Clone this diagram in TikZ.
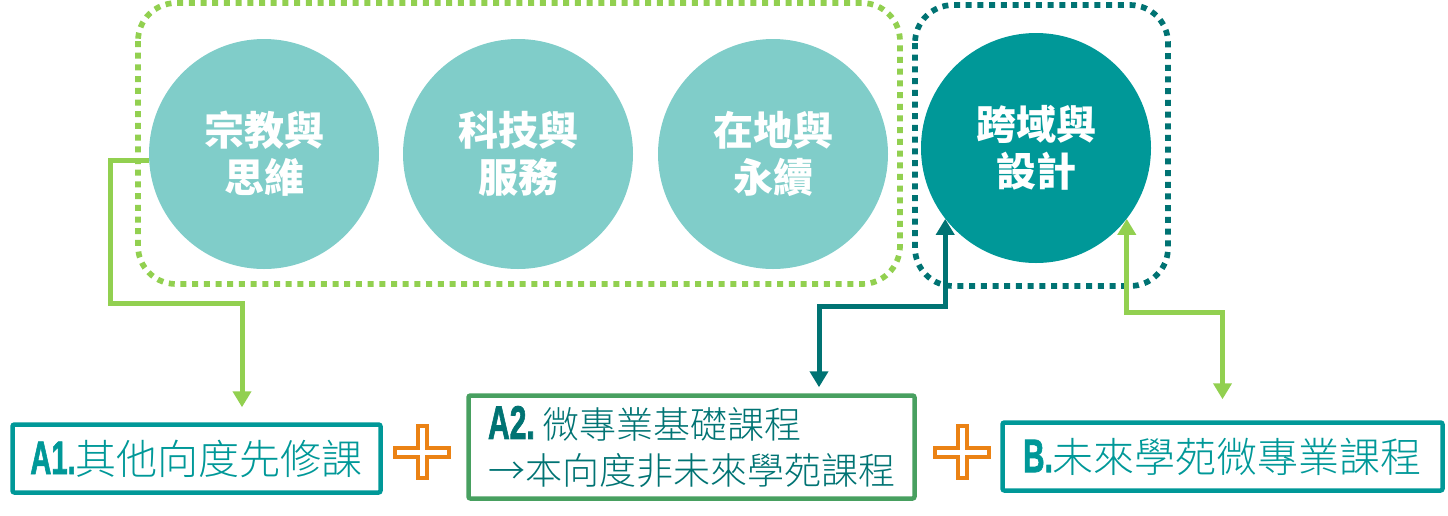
\documentclass[tikz,border=0pt]{standalone}
\usepackage{fontspec}
\usepackage{graphicx}
\usepackage{tikz}
\usetikzlibrary{arrows.meta}
\usepackage{xcolor}
\newfontfamily\cjk{Noto Sans CJK TC}
\newfontfamily\cjklight{Noto Sans CJK TC}[UprightFont=* Light]
\newfontfamily\labfont{Liberation Sans}[BoldFont=* Bold, BoldFeatures={FakeBold=1.8}]
\definecolor{lteal}{RGB}{128,205,201}
\definecolor{mteal}{RGB}{0,152,152}
\definecolor{dteal}{RGB}{0,115,115}
\definecolor{lgreen}{RGB}{146,208,80}
\definecolor{bgreen}{RGB}{72,160,96}
\definecolor{porange}{RGB}{235,130,20}
\newcommand{\lab}[2][0.62]{{\labfont\bfseries\fontsize{47}{47}\selectfont\scalebox{#1}[1]{#2}}}

\begin{document}
\begin{tikzpicture}[x=1pt,y=-1pt]
    \tikzset{topic/.style = {shape=circle, fill=lteal, minimum size=230pt, inner sep=0pt, text=white, align=center, font=\cjk\bfseries\fontsize{40}{47}\selectfont}}
    \tikzset{course/.style = {draw=mteal, text=mteal, line width=4.5pt, rounded corners=2pt, inner sep=0pt, minimum height=68pt, font=\cjklight\fontsize{41}{46}\selectfont}}
    \tikzset{frame/.style = {line width=5.7pt, rounded corners=38pt, dash pattern=on 6pt off 5.7pt}}
    \tikzset{link/.style = {line width=5pt, -{Triangle[width=18pt,length=16pt]}}}
    \tikzset{plussign/.pic = {\draw[porange, line width=4pt] (-4.5,-26) -- (4.5,-26) -- (4.5,-4.5) -- (27,-4.5) -- (27,4.5) -- (4.5,4.5) -- (4.5,26) -- (-4.5,26) -- (-4.5,4.5) -- (-27,4.5) -- (-27,-4.5) -- (-4.5,-4.5) -- cycle;}}

    \useasboundingbox (0,0) rectangle (1448,515);

    % groups
    \draw[frame, lgreen] (138,3) rectangle (900,284);
    \draw[frame, dteal] (915,5) rectangle (1168,286);

    % vertices
    \node[topic] (relig) at (264,154) {宗教與\\思維};
    \node[topic] (tech) at (518,154) {科技與\\服務};
    \node[topic] (local) at (773,154) {在地與\\永續};
    \node[topic, fill=mteal] (design) at (1036,148) {跨域與\\設計};

    \node[course, minimum width=368pt] (aone) at (196.5,458.5) {\lab{A1.}其他向度先修課};
    \node[course, draw=bgreen, text=dteal, minimum width=446pt, minimum height=103pt, align=left, font=\cjklight\fontsize{37}{46}\selectfont] (atwo) at (691.5,447) {\lab[0.64]{A2.} 微專業基礎課程\\→本向度非未來學苑課程};
    \node[course, minimum width=440pt] (bcourse) at (1222.5,456.5) {\lab[0.63]{B.}未來學苑微專業課程};

    \pic at (422,452) {plussign};
    \pic at (962,452) {plussign};

    % edges
    \coordinate (gbend) at (110,303);
    \coordinate (tbend) at (880,306);
    \coordinate (rbend) at (1180,312);
    \draw[link, lgreen, shorten >=15pt] ([yshift=-6pt]relig.west) -| (gbend) -| ([xshift=45.5pt]aone.north);
    \draw[link, dteal, {Triangle[width=18pt,length=16pt]}-{Triangle[width=18pt,length=16pt]}, shorten >=6pt] (design.218) |- (tbend) -| ([xshift=127.5pt]atwo.north);
    \draw[link, lgreen, {Triangle[width=18pt,length=16pt]}-{Triangle[width=18pt,length=16pt]}, shorten >=21pt] (design.322) |- (rbend) -| (bcourse.north);
\end{tikzpicture}
\end{document}
